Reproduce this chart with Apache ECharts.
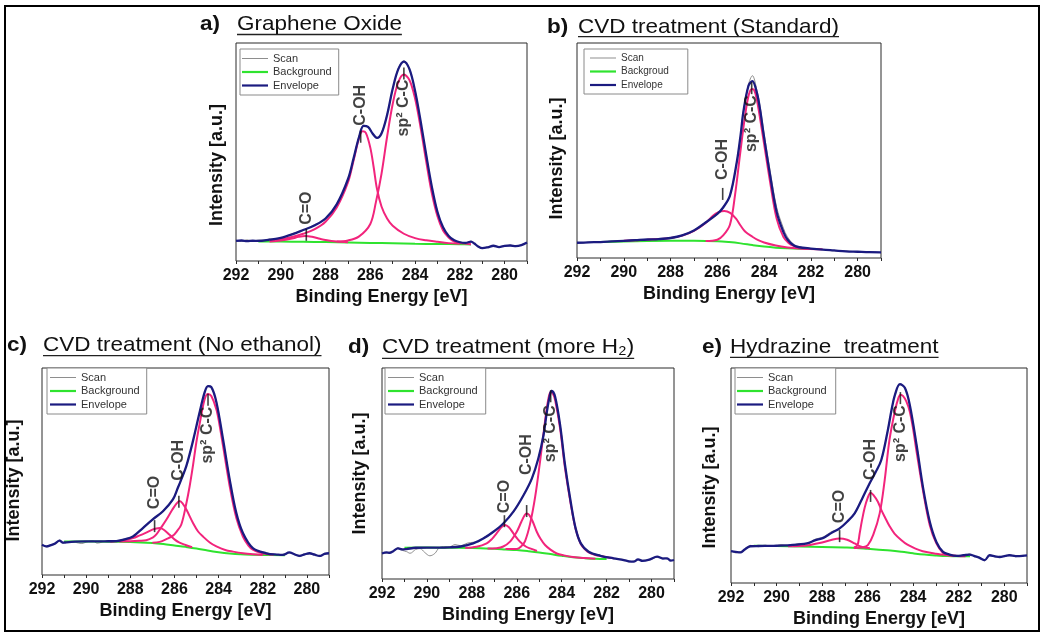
<!DOCTYPE html>
<html>
<head>
<meta charset="utf-8">
<script src="https://cdn.jsdelivr.net/npm/echarts@6/dist/echarts.min.js"></script>
<style>
  html, body { margin: 0; padding: 0; background: #fff; }
  #chart { width: 1044px; height: 634px; }
</style>
</head>
<body>
<div id="chart"></div>
<script>
// C 1s XPS spectra: binding energy [eV] vs. intensity (0-100, arbitrary units)

const xTickLabels = [292, 290, 288, 286, 284, 282, 280];
const xTickMarks = [292, 291, 290, 289, 288, 287, 286, 285, 284, 283, 282, 281, 280, 279];
const legendNames = ['Scan', 'Background', 'Envelope'];
const legendNamesB = ['Scan', 'Backgroud', 'Envelope'];
const panelLetters = ['a)', 'b)', 'c)', 'd)', 'e)'];
const panelTitles = ['Graphene Oxide', 'CVD treatment (Standard)', 'CVD treatment (No ethanol)', 'CVD treatment (more H\u2082)', 'Hydrazine  treatment'];

// a) Graphene Oxide
const aScan = [[292.0, 9.6], [291.75, 9.0], [291.5, 9.7], [291.25, 9.1], [291.0, 9.6], [290.75, 9.4], [290.5, 10.1], [290.0, 10.4], [289.5, 12.5], [289.0, 14.0], [288.5, 16.6], [288.0, 19.3], [287.5, 26.3], [287.0, 37.2], [286.5, 57.3], [286.3, 62.3], [286.1, 61.2], [285.9, 58.8], [285.7, 56.2], [285.5, 58.8], [285.25, 67.3], [285.0, 78.6], [284.75, 88.4], [284.5, 91.9], [284.25, 87.6], [284.0, 78.4], [283.75, 63.6], [283.5, 48.9], [283.25, 33.6], [283.0, 22.9], [282.75, 15.2], [282.5, 11.8], [282.25, 9.3], [282.0, 8.8], [281.75, 8.1], [281.5, 9.1], [281.35, 7.8], [281.2, 6.9], [281.0, 5.7], [280.75, 6.5], [280.5, 6.8], [280.25, 6.6], [280.0, 6.7], [279.75, 7.3], [279.5, 6.6], [279.25, 7.5], [279.0, 8.3]];
const aBg = [[291.0, 9.0], [290.0, 8.9], [289.0, 8.8], [288.0, 8.7], [287.0, 8.5], [286.0, 8.3], [285.0, 8.1], [284.0, 7.9], [283.0, 7.8], [282.0, 7.7], [281.5, 7.6]];
const aEnv = [[292.0, 9.2], [291.75, 9.4], [291.5, 9.1], [291.25, 9.3], [291.0, 9.2], [290.5, 9.8], [290.0, 10.6], [289.5, 12.2], [289.0, 14.2], [288.5, 16.3], [288.0, 19.5], [287.5, 26.0], [287.0, 37.5], [286.75, 47.0], [286.5, 57.0], [286.3, 62.0], [286.1, 61.5], [285.9, 58.5], [285.7, 56.5], [285.5, 58.5], [285.25, 67.0], [285.0, 79.0], [284.75, 88.0], [284.5, 91.5], [284.25, 88.0], [284.0, 78.0], [283.75, 64.0], [283.5, 48.5], [283.25, 34.0], [283.0, 22.5], [282.75, 15.5], [282.5, 11.5], [282.25, 9.5], [282.0, 8.6], [281.75, 8.3], [281.5, 8.9], [281.35, 8.0], [281.2, 6.8], [281.0, 5.9], [280.75, 6.3], [280.5, 7.0], [280.25, 6.4], [280.0, 6.9], [279.75, 7.1], [279.5, 6.8], [279.25, 7.3], [279.0, 8.5]];
const aSp2 = [[287.5, 8.9], [287.0, 9.4], [286.5, 11.3], [286.0, 17.0], [285.75, 27.0], [285.5, 40.0], [285.25, 57.0], [285.0, 72.0], [284.75, 82.0], [284.5, 85.5], [284.25, 83.0], [284.0, 74.5], [283.75, 61.0], [283.5, 45.5], [283.25, 31.0], [283.0, 20.5], [282.75, 14.0], [282.5, 10.8], [282.25, 8.9], [282.0, 8.2], [281.5, 7.7]];
const aCOH = [[290.5, 9.4], [290.0, 10.0], [289.5, 11.0], [289.0, 12.5], [288.5, 14.5], [288.0, 18.0], [287.5, 24.5], [287.0, 36.0], [286.75, 46.0], [286.5, 56.5], [286.35, 59.5], [286.2, 58.8], [286.0, 52.0], [285.85, 43.0], [285.7, 33.0], [285.5, 25.0], [285.25, 19.5], [285.0, 16.2], [284.5, 12.5], [284.0, 10.5], [283.5, 9.5], [283.0, 8.8], [282.5, 8.2], [282.0, 7.9]];
const aCO = [[290.5, 9.0], [290.0, 9.4], [289.5, 10.3], [289.2, 11.1], [288.9, 11.5], [288.6, 11.1], [288.25, 10.2], [288.0, 9.6], [287.5, 8.9], [287.0, 8.6]];
const aMarks = [[288.86, 12.0, 'C=O'], [286.43, 57.0, 'C-OH'], [284.5, 86.0, 'sp\u00b2 C-C']];

// b) CVD treatment (Standard)
const bScan = [[292.0, 7.4], [291.75, 6.9], [291.5, 7.5], [291.0, 7.2], [290.5, 7.9], [290.0, 7.8], [289.5, 8.5], [289.0, 8.4], [288.5, 9.1], [288.0, 9.1], [287.5, 10.7], [287.0, 12.6], [286.5, 16.8], [286.0, 20.3], [285.75, 23.8], [285.46, 28.7], [285.17, 44.8], [285.0, 57.2], [284.89, 67.9], [284.67, 80.6], [284.5, 84.8], [284.31, 78.2], [284.17, 70.5], [284.03, 60.0], [283.74, 40.5], [283.46, 23.5], [283.17, 13.8], [283.0, 9.8], [282.74, 6.4], [282.5, 5.2], [282.0, 4.2], [281.5, 4.0], [281.0, 3.3], [280.5, 3.3], [280.0, 2.8], [279.5, 2.9], [279.0, 2.5]];
const bBg = [[291.0, 7.4], [290.0, 7.7], [289.0, 7.9], [288.0, 8.0], [287.0, 8.0], [286.0, 7.8], [285.5, 7.4], [285.0, 6.8], [284.5, 6.0], [284.0, 5.3], [283.5, 4.8], [283.0, 4.5], [282.5, 4.3], [282.0, 4.2]];
const bEnv = [[292.0, 7.1], [291.5, 7.3], [291.0, 7.4], [290.5, 7.7], [290.0, 8.0], [289.5, 8.3], [289.0, 8.6], [288.5, 8.8], [288.0, 9.3], [287.5, 10.5], [287.0, 12.8], [286.5, 16.5], [286.0, 20.5], [285.75, 23.5], [285.46, 29.0], [285.17, 44.4], [285.0, 57.5], [284.89, 67.6], [284.67, 80.0], [284.5, 82.3], [284.31, 76.9], [284.17, 69.0], [284.03, 58.3], [283.74, 38.3], [283.46, 21.3], [283.17, 12.0], [283.0, 8.6], [282.74, 5.9], [282.5, 5.0], [282.0, 4.4], [281.5, 3.9], [281.0, 3.5], [280.5, 3.1], [280.0, 2.9], [279.5, 2.7], [279.0, 2.6]];
const bSp2 = [[286.5, 7.9], [286.0, 8.5], [285.75, 10.5], [285.46, 15.5], [285.24, 29.5], [285.03, 48.0], [284.81, 66.5], [284.65, 76.0], [284.52, 78.6], [284.42, 78.0], [284.31, 73.8], [284.03, 55.2], [283.74, 35.2], [283.46, 18.2], [283.17, 9.7], [282.95, 7.0], [282.74, 5.6], [282.5, 4.8], [282.17, 4.3], [281.5, 4.1]];
const bCOH = [[290.0, 8.0], [289.0, 8.5], [288.5, 8.8], [288.0, 9.3], [287.5, 10.4], [287.0, 12.6], [286.5, 16.3], [286.2, 19.5], [285.95, 21.3], [285.7, 21.9], [285.45, 21.0], [285.2, 18.3], [285.0, 15.0], [284.8, 12.2], [284.5, 9.9], [284.25, 8.3], [284.0, 7.2], [283.5, 5.8], [283.0, 4.9], [282.5, 4.4], [282.0, 4.2]];
const bMarks = [[285.77, 29.8, 'C-OH'], [284.53, 79.0, 'sp\u00b2 C-C']];

// c) CVD treatment (No ethanol)
const cScan = [[292.0, 14.9], [291.8, 13.5], [291.6, 14.7], [291.43, 14.8], [291.2, 16.9], [291.05, 15.3], [290.9, 16.1], [290.5, 15.8], [290.2, 15.2], [290.0, 15.9], [289.7, 16.5], [289.5, 15.4], [289.0, 16.6], [288.63, 16.1], [288.25, 17.5], [287.88, 18.3], [287.43, 23.0], [286.97, 26.7], [286.52, 31.1], [286.07, 36.2], [285.85, 42.3], [285.69, 45.9], [285.46, 53.0], [285.16, 64.5], [284.86, 78.9], [284.63, 88.0], [284.48, 91.5], [284.33, 90.5], [284.1, 83.8], [283.8, 65.3], [283.5, 46.5], [283.2, 29.7], [282.9, 20.6], [282.45, 12.7], [281.84, 10.8], [281.3, 9.5], [281.09, 10.0], [280.8, 10.6], [280.55, 10.2], [280.33, 8.9], [280.1, 10.3], [279.88, 10.2], [279.65, 10.1], [279.43, 8.9], [279.2, 10.5], [279.0, 10.2]];
const cBg = [[291.0, 16.2], [290.0, 16.2], [289.0, 16.1], [288.0, 16.0], [287.0, 15.5], [286.5, 15.0], [286.0, 14.3], [285.5, 13.6], [285.0, 12.8], [284.5, 11.8], [284.0, 11.0], [283.5, 10.4], [283.0, 10.0], [282.5, 9.8], [282.0, 9.7], [281.0, 9.6]];
const cEnv = [[292.0, 14.6], [291.8, 13.8], [291.6, 14.4], [291.43, 15.1], [291.2, 16.6], [291.05, 15.6], [290.9, 15.8], [290.5, 16.1], [290.0, 16.2], [289.5, 16.2], [289.0, 16.3], [288.63, 16.4], [288.25, 17.2], [287.88, 18.6], [287.43, 22.7], [286.97, 27.0], [286.52, 30.8], [286.07, 36.5], [285.85, 42.0], [285.69, 46.2], [285.46, 52.7], [285.16, 64.8], [284.86, 78.6], [284.63, 88.3], [284.48, 91.2], [284.33, 90.8], [284.1, 83.5], [283.8, 65.6], [283.5, 46.2], [283.2, 30.0], [282.9, 20.3], [282.45, 13.0], [281.84, 10.5], [281.3, 9.8], [281.09, 9.7], [280.8, 10.9], [280.55, 9.9], [280.33, 9.2], [280.1, 10.0], [279.88, 10.5], [279.65, 9.8], [279.43, 9.2], [279.2, 10.2], [279.0, 10.5]];
const cSp2 = [[287.0, 15.6], [286.67, 16.0], [286.37, 17.3], [286.07, 19.0], [285.9, 21.0], [285.69, 24.4], [285.46, 34.7], [285.31, 43.0], [285.16, 53.0], [285.01, 64.0], [284.86, 73.0], [284.63, 85.0], [284.48, 87.5], [284.33, 86.5], [284.1, 80.0], [283.95, 72.0], [283.8, 62.4], [283.5, 43.0], [283.2, 27.6], [282.9, 18.6], [282.65, 14.2], [282.45, 12.2], [282.15, 10.8], [281.84, 10.2], [281.5, 9.8]];
const cCOH = [[288.5, 16.2], [288.0, 16.3], [287.6, 16.5], [287.28, 16.8], [286.97, 18.2], [286.82, 19.6], [286.6, 23.0], [286.37, 26.7], [286.1, 31.5], [285.9, 34.6], [285.77, 35.7], [285.62, 34.4], [285.46, 31.6], [285.16, 25.1], [284.93, 21.0], [284.71, 18.6], [284.4, 15.7], [284.1, 13.8], [283.7, 12.1], [283.35, 11.3], [282.9, 10.5], [282.45, 10.0], [282.0, 9.7]];
const cCO = [[288.9, 16.1], [288.5, 16.4], [288.2, 16.9], [287.88, 17.8], [287.6, 19.0], [287.28, 20.5], [287.0, 21.9], [286.82, 22.5], [286.67, 22.7], [286.5, 22.0], [286.22, 19.4], [286.0, 17.2], [285.77, 15.6], [285.5, 14.5], [285.2, 13.4]];
const cMarks = [[286.9, 23.6, 'C=O'], [285.8, 35.4, 'C-OH'], [284.48, 84.7, 'sp\u00b2 C-C']];

// d) CVD treatment (more H2)
const dScan = [[292.0, 12.5], [291.8, 12.2], [291.66, 12.9], [291.5, 13.0], [291.29, 14.9], [291.1, 13.6], [290.91, 13.0], [290.75, 12.2], [290.5, 14.0], [290.3, 14.4], [290.1, 12.6], [289.87, 11.0], [289.65, 12.1], [289.45, 14.8], [289.2, 15.4], [289.0, 15.2], [288.75, 16.3], [288.5, 15.8], [288.2, 17.0], [287.94, 17.4], [287.7, 17.6], [287.49, 19.5], [287.04, 22.1], [286.6, 26.6], [286.15, 31.6], [285.7, 40.0], [285.33, 47.3], [285.04, 57.4], [284.81, 67.8], [284.66, 79.5], [284.51, 88.3], [284.44, 89.5], [284.29, 86.0], [284.07, 73.3], [283.85, 54.3], [283.6, 36.2], [283.38, 24.4], [283.15, 17.3], [282.8, 12.6], [282.28, 11.3], [281.69, 9.6], [281.24, 9.3], [281.0, 8.1], [280.8, 8.5], [280.6, 9.0], [280.4, 8.9], [280.1, 9.0], [279.75, 10.3], [279.5, 10.0], [279.3, 9.5], [279.15, 9.0], [279.0, 8.8]];
const dBg = [[291.0, 14.8], [290.0, 14.9], [289.0, 14.8], [288.0, 14.7], [287.0, 14.3], [286.5, 14.0], [286.0, 13.7], [285.5, 13.2], [285.0, 12.6], [284.5, 11.8], [284.0, 11.0], [283.5, 10.3], [283.0, 9.9], [282.5, 9.6], [282.0, 9.5]];
const dEnv = [[292.0, 12.1], [291.8, 12.6], [291.66, 12.4], [291.5, 13.2], [291.29, 14.5], [291.1, 14.0], [290.91, 14.2], [290.5, 14.8], [290.0, 14.9], [289.5, 14.9], [289.0, 15.0], [288.5, 15.4], [287.94, 16.9], [287.49, 19.2], [287.04, 22.4], [286.6, 26.3], [286.15, 31.9], [285.7, 39.7], [285.33, 47.6], [285.04, 57.1], [284.81, 68.1], [284.66, 79.2], [284.51, 87.9], [284.44, 89.2], [284.29, 86.3], [284.07, 72.9], [283.85, 53.9], [283.6, 36.6], [283.38, 24.0], [283.15, 16.9], [282.8, 12.9], [282.28, 11.0], [281.69, 9.8], [281.24, 9.0], [281.0, 8.4], [280.8, 8.2], [280.6, 9.3], [280.4, 8.6], [280.1, 9.2], [279.75, 10.6], [279.5, 9.7], [279.3, 9.8], [279.15, 8.7], [279.0, 9.0]];
const dSp2 = [[286.5, 14.2], [286.0, 14.2], [285.8, 15.5], [285.63, 18.0], [285.41, 26.0], [285.18, 39.0], [284.96, 56.0], [284.74, 75.0], [284.6, 85.0], [284.49, 88.6], [284.4, 88.0], [284.29, 84.7], [284.07, 71.3], [283.85, 52.4], [283.6, 35.8], [283.38, 23.7], [283.15, 16.6], [282.95, 14.0], [282.8, 12.6], [282.5, 11.4], [282.28, 10.9], [281.69, 9.8]];
const dCOH = [[287.3, 14.4], [286.9, 14.6], [286.6, 15.4], [286.3, 17.7], [286.0, 22.4], [285.8, 27.0], [285.65, 30.2], [285.56, 31.1], [285.45, 30.4], [285.3, 27.5], [285.11, 22.4], [284.95, 19.2], [284.74, 16.1], [284.5, 13.9], [284.22, 12.1], [283.9, 11.2], [283.5, 10.4], [283.0, 9.9], [282.5, 9.6]];
const dCO = [[288.3, 14.8], [287.79, 15.3], [287.34, 16.9], [287.1, 19.0], [286.9, 21.6], [286.7, 24.4], [286.52, 25.6], [286.35, 24.5], [286.15, 21.6], [285.95, 18.8], [285.78, 16.9], [285.6, 15.4], [285.41, 14.5], [285.1, 13.3]];
const dMarks = [[286.55, 27.4, 'C=O'], [285.56, 32.2, 'C-OH'], [284.49, 86.6, 'sp\u00b2 C-C']];

// e) Hydrazine treatment
const eScan = [[292.0, 15.3], [291.8, 14.0], [291.59, 14.6], [291.4, 15.2], [291.15, 17.5], [290.8, 16.9], [290.5, 17.6], [290.13, 17.0], [289.8, 17.9], [289.4, 17.3], [289.0, 18.4], [288.67, 18.1], [288.32, 20.3], [287.94, 21.4], [287.6, 23.8], [287.23, 25.1], [286.9, 28.8], [286.57, 32.1], [286.25, 39.3], [285.91, 46.1], [285.65, 51.8], [285.4, 56.9], [285.11, 71.5], [284.95, 80.2], [284.8, 87.8], [284.58, 92.2], [284.36, 91.0], [284.15, 82.6], [283.85, 64.5], [283.56, 43.7], [283.27, 28.8], [282.98, 18.8], [282.69, 14.8], [282.4, 12.9], [282.1, 12.9], [281.8, 12.6], [281.52, 13.5], [281.3, 12.2], [281.08, 12.0], [280.86, 10.3], [280.64, 13.2], [280.4, 12.1], [280.2, 12.4], [279.95, 12.3], [279.77, 13.2], [279.5, 12.2], [279.18, 12.9], [279.0, 12.5]];
const eBg = [[291.0, 17.3], [290.0, 17.2], [289.0, 17.0], [288.0, 16.8], [287.0, 16.5], [286.5, 16.3], [286.0, 15.9], [285.5, 15.5], [285.0, 15.1], [284.5, 14.5], [284.0, 13.8], [283.5, 13.2], [283.0, 12.8], [282.5, 12.5], [282.0, 12.4], [281.5, 12.4]];
const eEnv = [[292.0, 14.8], [291.8, 14.5], [291.59, 14.2], [291.4, 15.6], [291.15, 17.1], [290.8, 17.2], [290.13, 17.3], [289.4, 17.6], [288.67, 18.4], [288.32, 19.8], [287.94, 21.0], [287.6, 23.2], [287.23, 25.4], [286.9, 28.5], [286.57, 32.4], [286.25, 39.0], [285.91, 46.4], [285.65, 51.5], [285.4, 57.2], [285.11, 71.2], [284.95, 80.5], [284.8, 87.5], [284.58, 92.5], [284.36, 90.7], [284.15, 82.9], [283.85, 64.2], [283.56, 44.0], [283.27, 28.5], [282.98, 19.1], [282.69, 14.5], [282.4, 13.2], [282.1, 12.6], [281.8, 12.9], [281.52, 13.2], [281.3, 12.5], [281.08, 11.7], [280.86, 10.6], [280.64, 12.9], [280.4, 12.4], [280.2, 12.1], [279.95, 12.6], [279.77, 12.9], [279.5, 12.5], [279.18, 12.6], [279.0, 12.8]];
const eSp2 = [[286.6, 16.3], [286.2, 16.6], [285.99, 17.6], [285.75, 22.5], [285.47, 32.4], [285.25, 47.9], [285.04, 66.6], [284.8, 80.0], [284.65, 86.0], [284.55, 87.6], [284.45, 87.0], [284.3, 84.5], [284.15, 79.8], [284.0, 71.5], [283.85, 61.1], [283.56, 42.5], [283.27, 26.9], [282.98, 18.4], [282.69, 14.0], [282.4, 13.0], [282.1, 12.6], [281.7, 12.4]];
const eCOH = [[286.6, 16.5], [286.45, 17.5], [286.35, 23.0], [286.25, 29.0], [286.13, 35.0], [286.0, 39.5], [285.87, 42.0], [285.75, 41.0], [285.55, 37.8], [285.4, 34.0], [285.25, 30.8], [285.04, 26.5], [284.82, 23.0], [284.5, 19.8], [284.25, 17.8], [283.9, 16.0], [283.58, 14.8], [283.0, 13.6], [282.7, 13.2], [282.2, 12.6]];
const eCO = [[289.5, 17.1], [289.0, 17.2], [288.53, 17.7], [288.0, 18.8], [287.6, 20.0], [287.23, 20.7], [286.9, 20.1], [286.57, 18.4], [286.35, 17.1], [286.2, 16.6], [285.9, 16.2]];
const eMarks = [[287.23, 21.8, 'C=O'], [285.87, 40.5, 'C-OH'], [284.56, 86.0, 'sp\u00b2 C-C']];

const panels = [
  { scan: aScan, bg: aBg, env: aEnv, peaks: [aSp2, aCOH, aCO], marks: aMarks, legend: legendNames },
  { scan: bScan, bg: bBg, env: bEnv, peaks: [bSp2, bCOH], marks: bMarks, legend: legendNamesB },
  { scan: cScan, bg: cBg, env: cEnv, peaks: [cSp2, cCOH, cCO], marks: cMarks, legend: legendNames },
  { scan: dScan, bg: dBg, env: dEnv, peaks: [dSp2, dCOH, dCO], marks: dMarks, legend: legendNames },
  { scan: eScan, bg: eBg, env: eEnv, peaks: [eSp2, eCOH, eCO], marks: eMarks, legend: legendNames }
];

// Page layout for each panel (pixels)
const layout = [
  { grid: [236, 43, 291, 218], yGap: 10, yShift: 26, legend: [240, 49], legendFont: 11, legendPad: [4, 7, 4, 2],
    markSide: ['top', 'top', 'bottom'], markGap: [4, 5, 0],
    title: { letterX: 200, textX: 237, base: 32, line: 34.5 } },
  { grid: [577, 43, 304, 215], yGap: 11, yShift: 16, legend: [584, 49], legendFont: 10, legendPad: [4, 19, 4, 6],
    markSide: ['top', 'bottom'], markGap: [8, 1],
    title: { letterX: 547, textX: 578, base: 34.5, line: 36.7 } },
  { grid: [42, 368, 287, 207], yGap: 19, yShift: 18, legend: [47, 368], legendFont: 11, legendPad: [4, 7, 4, 3],
    markSide: ['top', 'top', 'bottom'], markGap: [11, 15, 1],
    title: { letterX: 7, textX: 43, base: 352.3, line: 355.7 } },
  { grid: [382, 368, 292, 211], yGap: 13, yShift: 0, legend: [385, 368], legendFont: 11, legendPad: [4, 8, 4, 3],
    markSide: ['top', 'top', 'bottom'], markGap: [2, 30, 3],
    title: { letterX: 348, textX: 382, base: 355, line: 358.3 } },
  { grid: [731, 368, 296, 215], yGap: 12, yShift: 24, legend: [735, 368], legendFont: 11, legendPad: [4, 9, 4, 2],
    markSide: ['top', 'top', 'bottom'], markGap: [7, 10, 1],
    title: { letterX: 702, textX: 730, base: 354.3, line: 357.3 } }
];

const FONT = '"Liberation Sans", Arial, Helvetica, sans-serif';
const COLORS = { scan: '#8e8e8e', bg: '#2fe32f', env: '#1b1b80', peak: '#f2247c', ink: '#111' };
const TITLE_SIZE = 21;
const TITLE_STRETCH = 1.07;
const THIN_LINE_ICON = 'path://M0 0H26V1H0Z';

const measureCtx = document.createElement('canvas').getContext('2d');
function textWidth(text, font) {
  measureCtx.font = font;
  return measureCtx.measureText(text).width;
}

function lineSeries(name, data, idx, color, width, z) {
  return {
    type: 'line', name: name, data: data, xAxisIndex: idx, yAxisIndex: idx,
    symbol: 'none', smooth: 0.35, silent: true, z: z,
    lineStyle: { color: color, width: width }, itemStyle: { color: color }
  };
}

const grids = [], xAxes = [], yAxes = [], series = [], legends = [], graphics = [];

panels.forEach(function (p, i) {
  const L = layout[i];
  grids.push({
    left: L.grid[0], top: L.grid[1], width: L.grid[2], height: L.grid[3],
    show: true, borderColor: '#2a2a2a', borderWidth: 1, backgroundColor: 'transparent'
  });
  xAxes.push({
    gridIndex: i, type: 'value', min: 279, max: 292, inverse: true,
    axisLine: { show: false }, splitLine: { show: false },
    axisTick: { show: true, customValues: xTickMarks, length: 3, lineStyle: { color: '#2a2a2a' } },
    axisLabel: { customValues: xTickLabels, fontSize: 16, fontWeight: 'bold', color: COLORS.ink, margin: 7, fontFamily: FONT },
    name: 'Binding Energy [eV]', nameLocation: 'middle', nameGap: 27,
    nameTextStyle: { fontSize: 18, fontWeight: 'bold', color: COLORS.ink, fontFamily: FONT }
  });
  yAxes.push({
    gridIndex: i, type: 'value', min: 0, max: 100,
    axisLine: { show: false }, axisTick: { show: false }, axisLabel: { show: false }, splitLine: { show: false },
    name: 'Intensity [a.u.]', nameLocation: 'middle', nameGap: L.yGap,
    nameTextStyle: { fontSize: 18, fontWeight: 'bold', color: COLORS.ink, fontFamily: FONT, padding: [0, L.yShift, 0, 0] }
  });

  series.push(lineSeries(p.legend[0], p.scan, i, COLORS.scan, 1, 2));
  series.push(lineSeries(p.legend[1], p.bg, i, COLORS.bg, 2, 3));
  p.peaks.forEach(function (pk, k) {
    series.push(lineSeries('peak-' + i + '-' + k, pk, i, COLORS.peak, 2, 4));
  });
  series.push(lineSeries(p.legend[2], p.env, i, COLORS.env, 2.3, 5));

  series.push({
    type: 'scatter', xAxisIndex: i, yAxisIndex: i, silent: true, z: 6,
    symbol: 'rect', symbolSize: [1.6, 12], itemStyle: { color: COLORS.ink },
    label: { show: true, rotate: 90, formatter: '{b}', fontSize: 16, fontWeight: 'bold', color: COLORS.ink, fontFamily: FONT },
    data: p.marks.map(function (m, k) {
      const below = L.markSide[k] === 'bottom';
      return {
        name: m[2], value: [m[0], m[1]],
        label: { position: L.markSide[k], distance: L.markGap[k], align: below ? 'right' : 'left', verticalAlign: 'middle' }
      };
    })
  });

  legends.push({
    left: L.legend[0], top: L.legend[1], orient: 'vertical', selectedMode: false,
    data: p.legend.map(function (n, k) { return { name: n, icon: k === 0 ? THIN_LINE_ICON : 'rect' }; }),
    itemWidth: 26, itemHeight: 2.2, itemGap: 13.5 - L.legendFont, padding: L.legendPad,
    borderColor: '#8a8a8a', borderWidth: 1, backgroundColor: '#fff',
    textStyle: { fontSize: L.legendFont, color: '#333', fontFamily: FONT }
  });

  // Panel heading: bold letter, underlined title
  const T = L.title;
  const titleFont = TITLE_SIZE + 'px ' + FONT;
  const yMid = T.base - 0.35 * TITLE_SIZE;
  graphics.push({
    type: 'text', x: T.letterX, y: yMid, scaleX: TITLE_STRETCH,
    style: { text: panelLetters[i], font: 'bold ' + titleFont, fill: COLORS.ink, align: 'left', verticalAlign: 'middle' }
  });
  graphics.push({
    type: 'text', x: T.textX, y: yMid, scaleX: TITLE_STRETCH,
    style: { text: panelTitles[i], font: titleFont, fill: COLORS.ink, align: 'left', verticalAlign: 'middle' }
  });
  const w = textWidth(panelTitles[i], titleFont) * TITLE_STRETCH;
  graphics.push({
    type: 'line', shape: { x1: T.textX, y1: T.line, x2: T.textX + w, y2: T.line },
    style: { stroke: '#222', lineWidth: 1.3 }
  });
});

// Outer frame around the whole figure
graphics.push({
  type: 'rect', shape: { x: 5, y: 6, width: 1034, height: 625 },
  style: { fill: 'none', stroke: '#000', lineWidth: 2 }, z: 100
});

const chart = echarts.init(document.getElementById('chart'), null, { renderer: 'canvas' });
chart.setOption({
  animation: false,
  backgroundColor: '#fff',
  grid: grids,
  xAxis: xAxes,
  yAxis: yAxes,
  legend: legends,
  series: series,
  graphic: graphics
});
</script>
</body>
</html>
